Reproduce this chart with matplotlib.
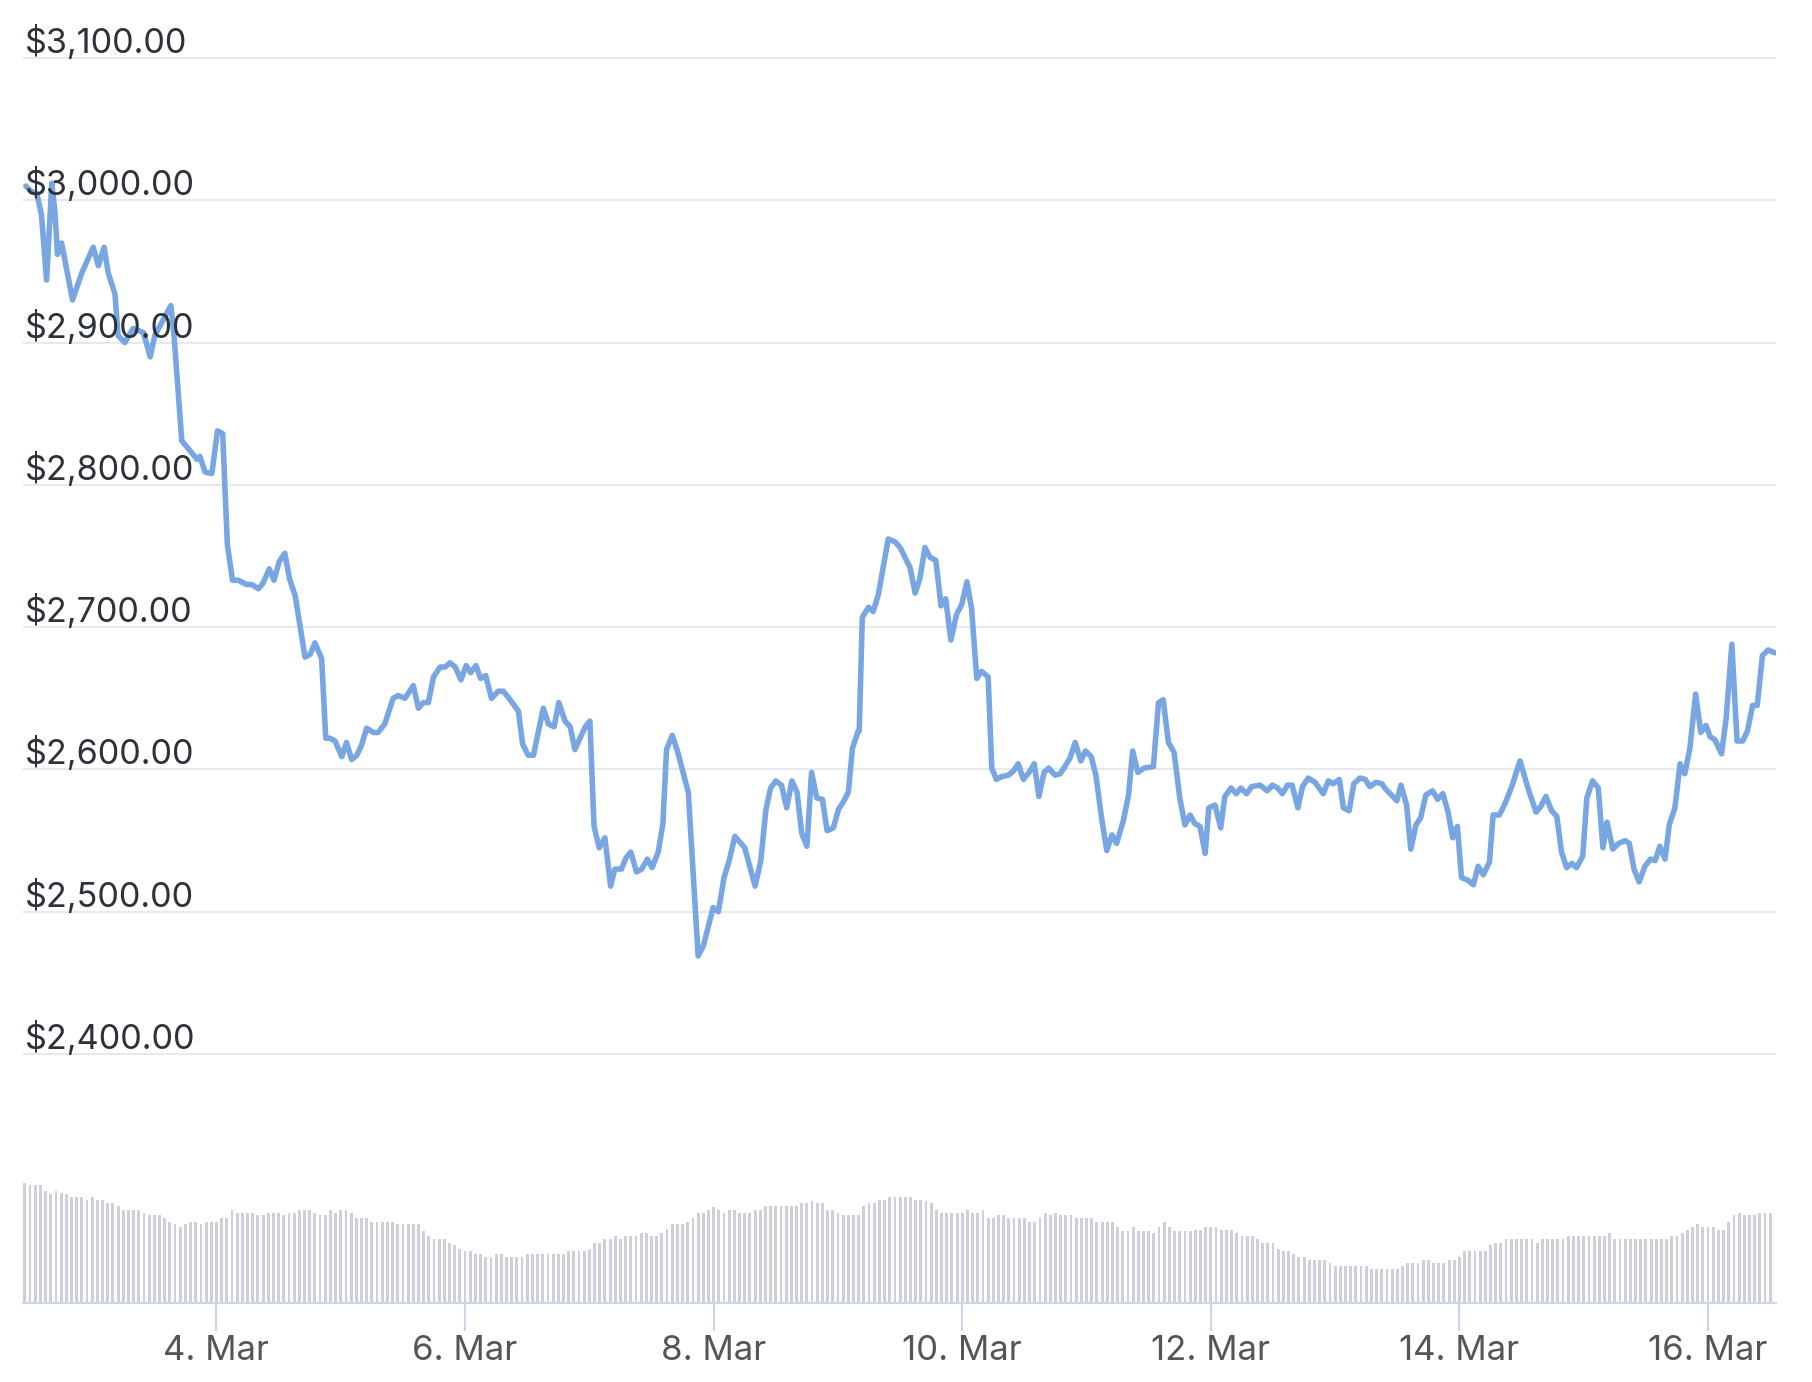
import numpy as np
import pandas as pd
import matplotlib
matplotlib.use('Agg')
import matplotlib.pyplot as plt
import matplotlib.dates as mdates
import matplotlib.transforms as mtransforms

plt.rcParams['font.family'] = ['Inter', 'DejaVu Sans']

# hourly series starts here
start = pd.Timestamp('2022-03-02 11:00')

# price line, hours since start / USD
price_hours = [
    0.2, 1.3, 2.3, 3.2, 4.2, 5.2, 5.8, 6.3, 7.1, 8.1, 9.2, 11.0, 13.2, 14.2, 15.3, 16.1,
    17.4, 18.0, 19.3, 20.9, 22.9, 24.2, 25.1, 26.7, 28.2, 28.8, 30.3, 31.9, 33.2, 33.8,
    34.8, 36.1, 37.2, 38.2, 39.1, 40.1, 41.2, 42.8, 43.8, 45.1, 46.0, 47.2, 48.1, 49.1,
    50.2, 51.1, 52.2, 54.1, 55.1, 56.0, 57.3, 58.1, 58.9, 59.9, 61.2, 62.1, 63.1, 64.1,
    65.0, 66.0, 67.3, 68.2, 69.5, 71.1, 72.1, 73.4, 75.0, 76.0, 76.9, 77.9, 78.9, 80.2,
    81.1, 82.1, 83.1, 84.2, 85.2, 86.1, 87.1, 88.0, 89.0, 90.1, 91.4, 92.4, 93.7, 95.3,
    96.1, 97.2, 98.2, 100.1, 101.1, 102.2, 103.1, 104.3, 105.3, 106.2, 108.2, 109.1,
    109.9, 110.9, 112.0, 113.1, 113.9, 115.2, 116.1, 117.0, 118.1, 119.1, 120.2, 121.1,
    122.3, 123.2, 123.9, 125.0, 126.0, 128.1, 130.0, 131.0, 132.9, 133.9, 135.0, 136.0,
    137.1, 139.0, 141.0, 142.1, 143.1, 144.0, 145.0, 146.1, 147.1, 148.1, 149.1, 150.0,
    151.0, 151.9, 152.9, 154.0, 154.9, 156.1, 157.1, 158.0, 159.0, 159.8, 160.9, 161.1,
    161.7, 162.9, 163.8, 164.8, 166.7, 168.0, 169.0, 170.9, 171.9, 172.8, 173.8, 174.8,
    175.9, 176.9, 177.8, 178.8, 179.9, 180.9, 181.9, 182.8, 183.8, 184.7, 186.0, 186.7,
    187.6, 188.6, 189.9, 190.9, 191.8, 192.8, 193.9, 194.9, 195.8, 196.8, 197.7, 198.9,
    199.9, 200.8, 201.8, 202.8, 203.9, 204.8, 205.9, 206.8, 207.9, 208.9, 209.9, 210.8,
    212.1, 213.1, 213.9, 214.9, 216.1, 217.9, 218.9, 219.8, 220.8, 221.9, 223.0, 224.0,
    225.0, 225.9, 226.9, 227.9, 228.6, 229.8, 230.9, 231.7, 232.9, 233.9, 234.8, 235.9,
    236.9, 238.5, 239.9, 240.9, 241.9, 242.8, 243.8, 244.7, 245.8, 246.7, 247.8, 249.1,
    250.7, 251.7, 252.6, 253.8, 254.6, 255.7, 256.6, 257.8, 258.8, 259.7, 260.9, 262.0,
    262.8, 263.9, 264.9, 265.7, 266.8, 267.6, 268.6, 269.5, 270.5, 271.8, 272.8, 273.8,
    274.8, 275.7, 276.6, 277.4, 278.7, 279.7, 280.6, 281.6, 282.8, 283.5, 284.7, 285.8,
    287.1, 288.7, 290.3, 291.8, 292.7, 293.7, 294.8, 295.8, 296.7, 297.7, 298.7, 299.6,
    300.8, 301.6, 302.7, 303.8, 304.7, 305.5, 306.6, 307.7, 309.0, 309.8, 310.7, 311.7,
    312.8, 313.9, 314.8, 315.7, 316.7, 317.5, 318.6, 319.6, 320.5, 321.5, 322.6, 323.6,
    324.6, 325.4, 326.3, 327.6, 328.5, 329.6, 330.6, 331.7, 332.6, 333.6, 334.5, 335.5,
    336.6, 337.9,
]
price_usd = [
    3010, 3006, 3005, 2990, 2944, 3012, 2992, 2962, 2970, 2951, 2930, 2949, 2967, 2954, 2967, 2949,
    2934, 2905, 2900, 2910, 2907, 2890, 2905, 2916, 2926, 2905, 2831, 2824, 2818, 2820,
    2809, 2808, 2838, 2836, 2758, 2733, 2733, 2730, 2730, 2727, 2731, 2741, 2733, 2746,
    2752, 2734, 2722, 2679, 2681, 2689, 2678, 2622, 2622, 2620, 2609, 2619, 2607, 2610,
    2617, 2629, 2626, 2626, 2632, 2650, 2652, 2650, 2659, 2643, 2647, 2647, 2665, 2672,
    2672, 2675, 2672, 2663, 2673, 2668, 2673, 2664, 2666, 2650, 2655, 2655, 2649, 2641,
    2618, 2610, 2610, 2643, 2632, 2630, 2647, 2634, 2630, 2614, 2630, 2634,
    2560, 2545, 2552, 2518, 2530, 2530, 2538, 2542, 2528, 2530, 2537, 2531,
    2542, 2562, 2614, 2624, 2613, 2584, 2469, 2476, 2503, 2500, 2524, 2536,
    2553, 2545, 2518, 2536, 2572, 2587, 2592, 2589, 2573, 2592, 2584, 2555,
    2546, 2598, 2580, 2579, 2557, 2559, 2572, 2577, 2584, 2615, 2627, 2627,
    2707, 2714, 2711, 2723, 2762, 2760, 2756, 2742, 2724, 2734, 2756, 2749,
    2747, 2715, 2720, 2691, 2709, 2716, 2732, 2713, 2664, 2669, 2665, 2601,
    2593, 2595, 2596, 2599, 2604, 2593, 2598, 2604, 2581, 2598, 2601, 2596,
    2597, 2602, 2608, 2619, 2606, 2613, 2609, 2596, 2566, 2543, 2554, 2548,
    2564, 2582, 2613, 2598, 2601, 2602, 2647, 2649, 2619, 2612, 2580, 2561,
    2568, 2562, 2560, 2541, 2573, 2575, 2559, 2581, 2587, 2583, 2587, 2583,
    2588, 2589, 2585, 2589, 2587, 2583, 2589, 2589, 2573, 2588, 2594, 2591,
    2583, 2592, 2590, 2593, 2573, 2571, 2590, 2594, 2593, 2588, 2591, 2590,
    2586, 2582, 2578, 2589, 2575, 2544, 2561, 2566, 2582, 2585, 2579, 2583,
    2570, 2552, 2560, 2524, 2522, 2519, 2532, 2526, 2535, 2568, 2568, 2576,
    2588, 2606, 2586, 2570, 2574, 2581, 2571, 2567, 2542, 2531, 2534, 2531,
    2539, 2580, 2592, 2587, 2545, 2563, 2544, 2548, 2550, 2548, 2530, 2521,
    2532, 2537, 2536, 2546, 2537, 2561, 2573, 2604, 2597, 2615, 2653, 2626,
    2631, 2623, 2621, 2611, 2636, 2688, 2620, 2620, 2627, 2645, 2645, 2680,
    2684, 2682,
]

# hourly volume, billions USD
volume_bn = [
    21.9, 21.5, 21.5, 21.5, 20.4, 19.8, 20.4, 20.0, 19.8, 19.2,
    19.2, 19.2, 18.7, 19.2, 18.7, 18.7, 18.1, 18.1, 17.6, 17.0,
    17.0, 17.0, 17.0, 16.4, 16.0, 16.0, 16.0, 15.4, 14.8, 14.4,
    13.8, 14.4, 14.8, 14.8, 14.4, 14.8, 14.8, 14.8, 15.4, 15.4,
    17.0, 16.4, 16.4, 16.4, 16.4, 16.0, 16.0, 16.4, 16.4, 16.4,
    16.0, 16.4, 16.4, 17.0, 17.0, 17.0, 16.4, 16.0, 16.0, 17.0,
    16.4, 17.0, 17.0, 16.4, 15.4, 15.4, 15.4, 14.8, 14.8, 14.8,
    14.8, 14.8, 14.4, 14.4, 14.4, 14.4, 14.4, 13.1, 12.1, 11.6,
    11.6, 11.6, 11.0, 10.5, 9.9, 9.5, 9.5, 8.9, 8.9, 8.3,
    8.3, 8.9, 8.9, 8.3, 8.3, 8.3, 8.3, 8.9, 8.9, 8.9,
    8.9, 8.9, 8.9, 8.9, 8.9, 9.5, 9.5, 9.5, 9.5, 9.9,
    11.0, 11.0, 11.6, 11.6, 12.1, 11.6, 12.1, 12.1, 12.1, 12.7,
    12.7, 12.1, 12.1, 12.7, 13.4, 14.4, 14.4, 14.4, 14.8, 15.4,
    16.4, 16.4, 17.0, 17.5, 17.0, 16.4, 17.0, 17.0, 16.4, 16.4,
    16.4, 17.0, 17.0, 17.6, 17.6, 17.6, 17.6, 17.6, 17.6, 17.6,
    18.1, 18.1, 18.6, 18.1, 18.1, 17.0, 17.0, 16.4, 16.0, 16.0,
    16.0, 16.0, 17.6, 18.1, 18.1, 18.7, 18.7, 19.2, 19.2, 19.2,
    19.2, 19.2, 18.7, 18.7, 18.6, 18.1, 17.0, 16.4, 16.4, 16.4,
    16.4, 16.4, 17.0, 16.4, 16.4, 17.0, 15.4, 15.4, 16.0, 16.0,
    15.4, 15.4, 15.4, 15.4, 14.8, 14.8, 15.4, 16.4, 16.0, 16.4,
    16.0, 16.0, 16.0, 15.4, 15.4, 15.4, 15.4, 14.8, 14.8, 14.8,
    14.8, 13.8, 13.1, 13.1, 13.8, 13.1, 13.1, 13.1, 12.7, 13.8,
    14.8, 13.8, 13.1, 13.1, 13.1, 13.1, 13.3, 13.3, 13.8, 13.8,
    13.8, 13.3, 13.3, 13.3, 12.7, 12.1, 12.1, 12.1, 11.6, 11.0,
    11.0, 11.0, 9.9, 9.4, 9.4, 8.9, 8.3, 8.3, 7.8, 7.8,
    7.8, 7.8, 7.2, 6.7, 6.7, 6.7, 6.7, 6.7, 6.7, 6.7,
    6.1, 6.1, 6.1, 6.1, 6.1, 6.1, 6.7, 7.2, 7.2, 7.2,
    7.8, 7.8, 7.2, 7.2, 7.2, 7.8, 7.8, 8.3, 9.4, 9.4,
    9.4, 9.4, 9.4, 10.5, 11.0, 11.0, 11.6, 11.6, 11.6, 11.6,
    11.6, 11.6, 11.0, 11.6, 11.6, 11.6, 11.6, 11.6, 12.1, 12.1,
    12.1, 12.1, 12.1, 12.1, 12.1, 12.1, 12.7, 11.6, 11.6, 11.6,
    11.6, 11.6, 11.6, 11.6, 11.6, 11.6, 11.6, 11.6, 12.1, 12.1,
    12.7, 13.3, 13.8, 14.4, 13.8, 13.8, 13.8, 13.3, 13.3, 14.8,
    16.0, 16.4, 16.0, 16.0, 16.0, 16.4, 16.4, 16.4,
]

price_ticks = [2400, 2500, 2600, 2700, 2800, 2900, 3000, 3100]
date_ticks = pd.date_range('2022-03-04', '2022-03-16', freq='2D')

price_times = start + pd.to_timedelta(price_hours, unit='h')
vol_times = start + pd.to_timedelta(np.arange(len(volume_bn)), unit='h')

fig = plt.figure(figsize=(18.12, 13.82), dpi=100)
left, width = 0.01286, 0.9675
ax = fig.add_axes([left, 0.2167, width, 0.7619])
axv = fig.add_axes([left, 0.05716, width, 0.09551], sharex=ax)

# price panel
for v in price_ticks:
    ax.axhline(v, color='#e8e9ed', lw=1.5, zorder=0)
ax.plot(price_times, price_usd, color='#78a6e2', lw=4.0,
        solid_joinstyle='round', solid_capstyle='round', zorder=3)
ax.set_ylim(2380, 3120)
ax.set_xlim(start - pd.Timedelta(hours=0.3), start + pd.Timedelta(hours=338.2))
for s in ax.spines.values():
    s.set_visible(False)
ax.set_yticks([])
ax.tick_params(bottom=False, labelbottom=False)

trans = mtransforms.blended_transform_factory(ax.transAxes, ax.transData)
for v in price_ticks:
    ax.annotate(f'${v:,.2f}', xy=(0, v), xycoords=trans, xytext=(1.2, 3.6),
                textcoords='offset points', ha='left', va='baseline',
                fontsize=24.6, color='#2d3139', zorder=4)

# volume panel
axv.bar(vol_times, volume_bn, width=0.55 / 24, color='#cdd0d8', align='center', zorder=2)
axv.set_ylim(0, 24)
for k in ['top', 'left', 'right']:
    axv.spines[k].set_visible(False)
axv.spines['bottom'].set_color('#ccd6eb')
axv.spines['bottom'].set_linewidth(1.5)
axv.set_yticks([])
axv.set_xticks(date_ticks)
axv.xaxis.set_major_formatter(mdates.DateFormatter('%-d. %b'))
axv.tick_params(axis='x', length=20, width=1.5, color='#ccd6eb',
                labelcolor='#555555', labelsize=25, pad=3)

fig.savefig('out.png', dpi=100, facecolor='white')
